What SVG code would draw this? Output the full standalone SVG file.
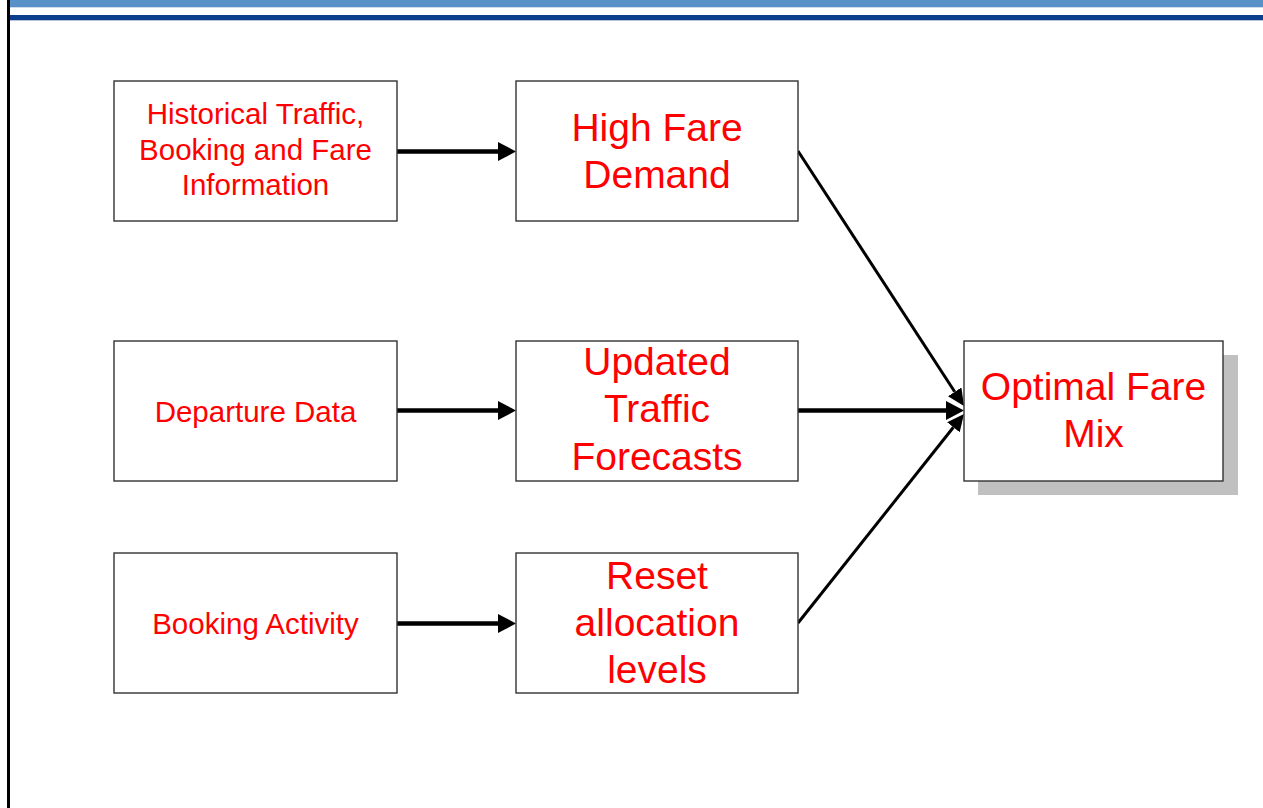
<svg xmlns="http://www.w3.org/2000/svg" width="1263" height="808" viewBox="0 0 1263 808">
<style>
.box{fill:#fff;stroke:#333;stroke-width:1.4}
.t{font-family:"Liberation Sans",Arial,sans-serif;fill:#f00;text-anchor:middle}
.s{font-size:29.5px}
.l{font-size:39px}
.c{stroke:#000;fill:none}
</style>
<defs>
<marker id="ah" viewBox="0 0 18 19" refX="0" refY="9.5" markerWidth="18" markerHeight="19" markerUnits="userSpaceOnUse" orient="auto">
<path d="M0,0 L18,9.5 L0,19 z" fill="#000"/>
</marker>
<marker id="ah2" viewBox="0 0 17 16" refX="0" refY="8" markerWidth="17" markerHeight="16" markerUnits="userSpaceOnUse" orient="auto">
<path d="M0,0 L17,8 L0,16 z" fill="#000"/>
</marker>
</defs>
<rect x="0" y="0" width="1263" height="808" fill="#fff"/>
<g id="frame">
<rect x="10" y="0" width="1253" height="7.3" fill="#5891C8"/>
<rect x="10" y="15" width="1253" height="5.3" fill="#0C3E8C"/>
<rect x="7" y="0" width="3" height="808" fill="#000"/>
</g>
<g id="connectors">
<line class="c" x1="397" y1="151.5" x2="498" y2="151.5" stroke-width="4.5" stroke-linecap="round" marker-end="url(#ah)"/>
<line class="c" x1="397" y1="410.5" x2="498" y2="410.5" stroke-width="4.5" stroke-linecap="round" marker-end="url(#ah)"/>
<line class="c" x1="397" y1="623.5" x2="498" y2="623.5" stroke-width="4.5" stroke-linecap="round" marker-end="url(#ah)"/>
<line class="c" x1="798" y1="151" x2="954.7" y2="391.8" stroke-width="3" marker-end="url(#ah2)"/>
<line class="c" x1="798" y1="410.5" x2="946" y2="410.5" stroke-width="4.5" marker-end="url(#ah)"/>
<line class="c" x1="798" y1="623" x2="953.4" y2="427.3" stroke-width="3" marker-end="url(#ah2)"/>
</g>
<g id="n-historical">
<rect class="box" x="114" y="81" width="283" height="140"/>
<text class="t s" x="255.5" y="124">Historical Traffic,</text>
<text class="t s" x="255.5" y="159.5">Booking and Fare</text>
<text class="t s" x="255.5" y="195">Information</text>
</g>
<g id="n-departure">
<rect class="box" x="114" y="341" width="283" height="140"/>
<text class="t s" x="255.5" y="422">Departure Data</text>
</g>
<g id="n-booking">
<rect class="box" x="114" y="553" width="283" height="140"/>
<text class="t s" x="255.5" y="633.5">Booking Activity</text>
</g>
<g id="n-highfare">
<rect class="box" x="516" y="81" width="282" height="140"/>
<text class="t l" x="657" y="140.5">High Fare</text>
<text class="t l" x="657" y="187.5">Demand</text>
</g>
<g id="n-updated">
<rect class="box" x="516" y="341" width="282" height="140"/>
<text class="t l" x="657" y="374.5">Updated</text>
<text class="t l" x="657" y="422">Traffic</text>
<text class="t l" x="657" y="470">Forecasts</text>
</g>
<g id="n-reset">
<rect class="box" x="516" y="553" width="282" height="140"/>
<text class="t l" x="657" y="588.5">Reset</text>
<text class="t l" x="657" y="635.5">allocation</text>
<text class="t l" x="657" y="682.5">levels</text>
</g>
<g id="n-optimal">
<rect x="978" y="355" width="260" height="140" fill="#C0C0C0"/>
<rect class="box" x="964" y="341" width="259" height="140"/>
<text class="t l" x="1093.5" y="399.5">Optimal Fare</text>
<text class="t l" x="1093.5" y="446.5">Mix</text>
</g>
</svg>
